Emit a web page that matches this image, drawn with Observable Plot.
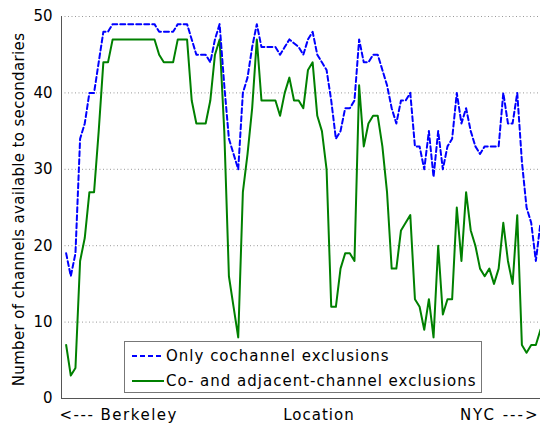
<!DOCTYPE html>
<html><head><meta charset="utf-8">
<script src="https://cdn.jsdelivr.net/npm/d3@7"></script>
<script src="https://cdn.jsdelivr.net/npm/@observablehq/plot@0.6"></script>
<style>
body{margin:0;background:#fff;}
#wrap{position:relative;width:540px;height:426px;font-family:"DejaVu Sans",sans-serif;}
.legend{position:absolute;left:124px;top:341px;width:358px;height:52px;border:1px solid #777;background:#fff;box-sizing:border-box;font-size:15px;color:#000;letter-spacing:1px;}
.row{position:absolute;left:0;height:20px;display:flex;align-items:center;white-space:nowrap;}
.row svg{margin-left:7px;margin-right:2px;}
</style></head><body><div id="wrap"></div>
<script>
// Location index along the route (Berkeley -> NYC)
const locations = d3.range(1, 104);
// Only cochannel exclusions
const cochannel = [19,16,19,34,36,40,40,44,48,48,
  49,49,49,49,49,49,49,49,49,49,
  48,48,48,48,49,49,49,47,45,45,
  45,44,47,49,41,34,32,30,40,42,
  46,49,46,46,46,46,45,46,47,46.5,
  46,45,47,48,45,44,43,39,34,35,
  38,38,39,47,44,44,45,45,43,41,
  38,36,39,39,40,33,33,30,35,29,
  35,30,33,34,40,36,38,35,33,32,
  33,33,33,33,40,36,36,40,31,25,
  23,18,23];
// Co- and adjacent-channel exclusions
const adjacent = [7,3,4,18,21,27,27,35,44,44,
  47,47,47,47,47,47,47,47,47,47,
  45,44,44,44,47,47,47,39,36,36,
  36,39,45,47,35,16,12,8,27,32,
  38,47,39,39,39,39,37,40,42,39,
  39,38,43,44,37,35,30,12,12,17,
  19,19,18,41,33,36,37,37,33,27,
  17,17,22,23,24,13,12,9,13,8,
  20,11,13,13,25,18,27,22,20,17,
  16,17,15,17,23,18,15,24,7,6,
  7,7,9];
const yTicks = [0,10,20,30,40,50];
const yLabel = "Number of channels available to secondaries";
const xLabels = ["<--- Berkeley", "Location", "NYC --->"];
const series = [
  {name:"Only cochannel exclusions", values:cochannel, color:"#0000ff", dash:"5,3"},
  {name:"Co- and adjacent-channel exclusions", values:adjacent, color:"#008000", dash:null}
];
const rows = series.flatMap(s => s.values.map((v,i)=>({x:locations[i], y:v, s:s.name})));

const plot = Plot.plot({
  width:540, height:426,
  marginLeft:61, marginRight:0, marginTop:16, marginBottom:28,
  style:{fontFamily:"DejaVu Sans, sans-serif", fontSize:"15px", color:"#000", background:"#fff", overflow:"visible"},
  x:{domain:[0,103], axis:null},
  y:{domain:[0,50]},
  marks:[
    Plot.gridY(yTicks, {stroke:"#999", strokeOpacity:1, strokeDasharray:"1,2.5", strokeWidth:1}),
    Plot.line(rows.filter(d=>d.s===series[1].name), {x:"x", y:"y", stroke:series[1].color, strokeWidth:2}),
    Plot.line(rows.filter(d=>d.s===series[0].name), {x:"x", y:"y", stroke:series[0].color, strokeWidth:2, strokeDasharray:series[0].dash}),
    Plot.ruleX([0], {stroke:"#555", strokeWidth:1}),
    Plot.ruleY([0], {stroke:"#555", strokeWidth:1}),
    Plot.axisY(yTicks, {tickSize:0, tickPadding:9, label:null}),
    Plot.text([yLabel], {frameAnchor:"left", textAnchor:"middle", rotate:-90, dx:-42, dy:2}),
    Plot.text([xLabels[0]], {frameAnchor:"bottom-left", textAnchor:"start", dy:21, dx:-2}),
    Plot.text([xLabels[1]], {frameAnchor:"bottom", textAnchor:"middle", dy:21, dx:18}),
    Plot.text([xLabels[2]], {frameAnchor:"bottom-right", textAnchor:"end", dy:21, dx:-1})
  ]
});
const spacing = {[yLabel]:"0.35px", [xLabels[0]]:"1.5px", [xLabels[1]]:"1px", [xLabels[2]]:"2px"};
d3.select(plot).selectAll("text").each(function(){
  const t = this.textContent;
  if (spacing[t]) this.style.letterSpacing = spacing[t];
});
const wrap = document.getElementById("wrap");
wrap.appendChild(plot);
const lg = document.createElement("div");
lg.className = "legend";
series.forEach((s,i)=>{
  const r = document.createElement("div");
  r.className = "row";
  r.style.top = (i===0 ? 4 : 29) + "px";
  r.innerHTML = `<svg width="32" height="6"><line x1="0" y1="3" x2="32" y2="3" stroke="${s.color}" stroke-width="2" ${s.dash?`stroke-dasharray="${s.dash}"`:""}/></svg><span>${s.name}</span>`;
  lg.appendChild(r);
});
wrap.appendChild(lg);
</script>
</body></html>
